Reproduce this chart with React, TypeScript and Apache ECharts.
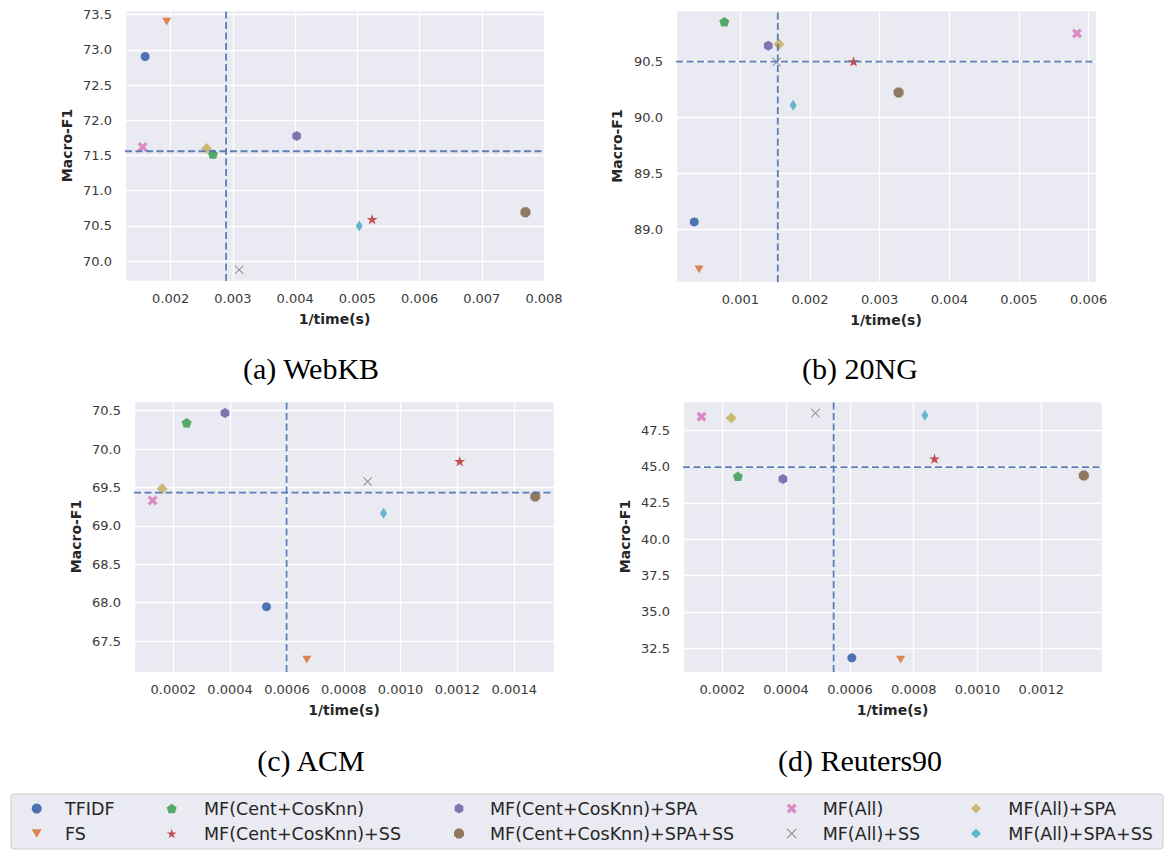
import React, { useEffect, useRef } from "react";
import * as echarts from "echarts";

const methods = [
  "TFIDF",
  "FS",
  "MF(Cent+CosKnn)",
  "MF(Cent+CosKnn)+SS",
  "MF(Cent+CosKnn)+SPA",
  "MF(Cent+CosKnn)+SPA+SS",
  "MF(All)",
  "MF(All)+SS",
  "MF(All)+SPA",
  "MF(All)+SPA+SS",
];

const colors = [
  "#4C72B0",
  "#DD8452",
  "#55A868",
  "#C44E52",
  "#8172B3",
  "#937860",
  "#DA8BC3",
  "#8C8C8C",
  "#CCB974",
  "#64B5CD",
];

const captions = ["(a) WebKB", "(b) 20NG", "(c) ACM", "(d) Reuters90"];

const webkbX = [0.001589, 0.001935, 0.002679, 0.005238, 0.004024, 0.007702, 0.001548, 0.003101, 0.002577, 0.00503];
const webkbY = [72.905, 73.4, 71.52, 70.595, 71.777, 70.695, 71.62, 69.877, 71.6, 70.5];

const ngX = [0.000338, 0.000407, 0.00077, 0.002625, 0.0014, 0.003272, 0.005833, 0.00152, 0.001555, 0.001758];
const ngY = [89.066, 88.642, 90.855, 90.5, 90.64, 90.223, 90.75, 90.494, 90.652, 90.109];

const acmX = [0.000528, 0.00067, 0.000247, 0.001208, 0.000382, 0.001474, 0.000127, 0.000884, 0.000161, 0.00094];
const acmY = [67.948, 67.257, 70.344, 69.84, 70.47, 69.383, 69.331, 69.578, 69.483, 69.165];

const reutersX = [0.000606, 0.000759, 0.000249, 0.000865, 0.00039, 0.001333, 0.000135, 0.000492, 0.000228, 0.000835];
const reutersY = [31.83, 31.7, 44.33, 45.55, 44.15, 44.38, 48.44, 48.69, 48.35, 48.53];

const xTickStep = [0.001, 0.001, 0.0002, 0.0002];
const yTickStep = [0.5, 0.5, 0.5, 2.5];

const P = (d: string) => "path://" + d;
const symbols = [
  "circle",
  P("M-10,-8.66L10,-8.66L0,8.66Z"),
  P("M0,-10L9.51,-3.09L5.88,8.09L-5.88,8.09L-9.51,-3.09Z"),
  P("M0,-10L2.245,-3.09L9.511,-3.09L3.633,1.18L5.878,8.09L0,3.82L-5.878,8.09L-3.633,1.18L-9.511,-3.09L-2.245,-3.09Z"),
  P("M0,-10L8.66,-5L8.66,5L0,10L-8.66,5L-8.66,-5Z"),
  P("M9.239,3.827L3.827,9.239L-3.827,9.239L-9.239,3.827L-9.239,-3.827L-3.827,-9.239L3.827,-9.239L9.239,-3.827Z"),
  P("M4.95,-9.19L9.19,-4.95L4.24,0L9.19,4.95L4.95,9.19L0,4.24L-4.95,9.19L-9.19,4.95L-4.24,0L-9.19,-4.95L-4.95,-9.19L0,-4.24Z"),
  P("M6.51,-7.64L7.64,-6.51L1.13,0L7.64,6.51L6.51,7.64L0,1.13L-6.51,7.64L-7.64,6.51L-1.13,0L-7.64,-6.51L-6.51,-7.64L0,-1.13Z"),
  "diamond",
  "diamond",
];
const symbolSizes: any[] = [9, 9, 10, 11, 10, 10, 10, 9, [11, 11], [7, 11]];

function median(a: number[]) {
  const s = [...a].sort((p, q) => p - q);
  const n = s.length;
  return n % 2 ? s[(n - 1) / 2] : (s[n / 2 - 1] + s[n / 2]) / 2;
}

export default function App() {
  const ref = useRef<HTMLDivElement>(null);
  useEffect(() => {
    if (!ref.current) return;
    const chart = echarts.init(ref.current, null, { renderer: "svg" });
    const datasets = [
      [webkbX, webkbY],
      [ngX, ngY],
      [acmX, acmY],
      [reutersX, reutersY],
    ];
    const grids = [
      { left: 125, top: 10, width: 419, height: 271 },
      { left: 676, top: 10, width: 420, height: 272 },
      { left: 134, top: 401, width: 420, height: 271 },
      { left: 683, top: 401, width: 419, height: 271 },
    ];
    const xRanges = [
      [0.001265, 0.008],
      [0.000076, 0.006106],
      [0.0000617, 0.00154],
      [0.0000769, 0.00139],
    ];
    const yRanges = [
      [69.718, 73.565],
      [88.529, 90.959],
      [67.097, 70.626],
      [30.85, 49.52],
    ];
    const xDec = [3, 3, 4, 4];
    const yNameGap = [51, 52, 51, 51];

    const isTick = (v: number, step: number) =>
      Math.abs(v / step - Math.round(v / step)) < 1e-6;

    const xAxis = grids.map((_, i) => ({
      type: "value",
      gridIndex: i,
      min: xRanges[i][0],
      max: xRanges[i][1],
      minInterval: xTickStep[i],
      maxInterval: xTickStep[i],
      name: "1/time(s)",
      nameLocation: "middle",
      nameGap: 31,
      nameTextStyle: { fontFamily: "DejaVu Sans", fontWeight: "bold", fontSize: 14, color: "#262626" },
      axisLine: { show: false },
      axisTick: { show: false },
      axisLabel: {
        margin: 11,
        fontFamily: "DejaVu Sans",
        fontSize: 13,
        color: "#3a3a3a",
        formatter: (v: number) => (isTick(v, xTickStep[i]) ? v.toFixed(xDec[i]) : ""),
      },
      splitLine: { show: true, lineStyle: { color: "#ffffff", width: 1.3 } },
    }));
    const yAxis = grids.map((_, i) => ({
      type: "value",
      gridIndex: i,
      min: yRanges[i][0],
      max: yRanges[i][1],
      minInterval: yTickStep[i],
      maxInterval: yTickStep[i],
      name: "Macro-F1",
      nameLocation: "middle",
      nameGap: yNameGap[i],
      nameTextStyle: { fontFamily: "DejaVu Sans", fontWeight: "bold", fontSize: 14, color: "#262626" },
      axisLine: { show: false },
      axisTick: { show: false },
      axisLabel: {
        margin: 13,
        fontFamily: "DejaVu Sans",
        fontSize: 13,
        color: "#3a3a3a",
        formatter: (v: number) => (isTick(v, yTickStep[i]) ? v.toFixed(1) : ""),
      },
      splitLine: { show: true, lineStyle: { color: "#ffffff", width: 1.3 } },
    }));

    const dashStyle = { color: "#4C72B0", type: [7, 3.5], width: 1.8, opacity: 0.9 };
    const series: any[] = [];
    datasets.forEach(([xs, ys], g) => {
      const mx = median(xs);
      const my = median(ys);
      series.push({
        type: "line",
        name: "medianX" + g,
        xAxisIndex: g,
        yAxisIndex: g,
        showSymbol: false,
        silent: true,
        z: 4,
        lineStyle: dashStyle,
        data: [
          [mx, yRanges[g][0]],
          [mx, yRanges[g][1]],
        ],
      });
      series.push({
        type: "line",
        name: "medianY" + g,
        xAxisIndex: g,
        yAxisIndex: g,
        showSymbol: false,
        silent: true,
        z: 4,
        lineStyle: dashStyle,
        data: [
          [xRanges[g][0], my],
          [xRanges[g][1], my],
        ],
      });
      methods.forEach((m, k) => {
        series.push({
          type: "scatter",
          name: m,
          xAxisIndex: g,
          yAxisIndex: g,
          symbol: symbols[k],
          symbolSize: symbolSizes[k],
          symbolKeepAspect: true,
          itemStyle: { color: colors[k], opacity: 1 },
          data: [[xs[k], ys[k]]],
          z: 3,
        });
      });
    });

    const colMarker = [36.7, 171.7, 459, 791.7, 976];
    const colText = [65, 204, 490, 822.7, 1008.3];
    const legend = [0, 1, 2, 3, 4].map((c) => ({
      orient: "vertical",
      left: colMarker[c] - 5,
      top: 799.6,
      itemWidth: 10,
      itemHeight: 10,
      itemGap: 6.9,
      padding: 0,
      selectedMode: false,
      data: [methods[c * 2], methods[c * 2 + 1]],
      textStyle: {
        fontFamily: "DejaVu Sans",
        fontSize: 17.5,
        color: "#262626",
        lineHeight: 17.5,
        padding: [0, 0, 0, colText[c] - colMarker[c] - 10],
      },
    }));

    const capPos = [
      [311, 368],
      [860, 368],
      [311, 760],
      [860, 760],
    ];

    chart.setOption({
      animation: false,
      backgroundColor: "#ffffff",
      grid: grids.map((g) => ({ ...g, show: true, backgroundColor: "#EAEAF2", borderWidth: 0 })),
      xAxis,
      yAxis,
      series,
      legend,
      graphic: [
        {
          type: "rect",
          z: -10,
          shape: { x: 11, y: 794, width: 1152, height: 55, r: 3 },
          style: { fill: "#EAEAF2", stroke: "#CCCCCC", lineWidth: 1 },
        },
        ...captions.map((t, i) => ({
          type: "text",
          x: capPos[i][0],
          y: capPos[i][1],
          style: {
            text: t,
            align: "center",
            verticalAlign: "middle",
            font: '30px "Liberation Serif"',
            fill: "#000000",
          },
        })),
      ],
    });
    return () => chart.dispose();
  }, []);
  return (
    <div
      ref={ref}
      style={{ position: "absolute", left: 0, top: 0, width: 1164, height: 850, background: "#fff" }}
    />
  );
}
